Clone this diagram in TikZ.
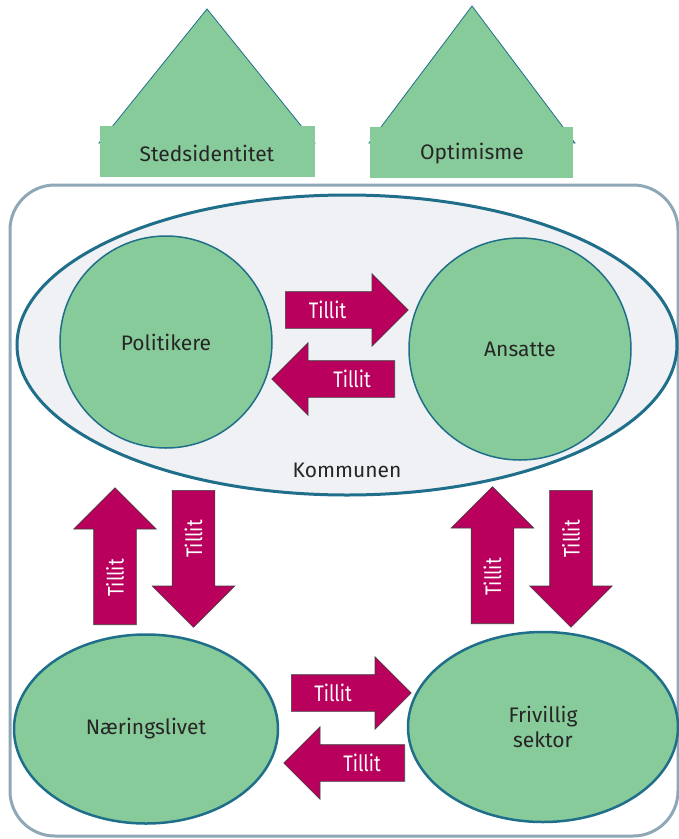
\documentclass[tikz,border=0pt]{standalone}
\usepackage{fontspec}
\setmainfont{Fira Sans}
\newfontfamily\tillitfont[FakeStretch=0.82]{Fira Sans}
\usetikzlibrary{shapes.geometric, shapes.arrows, positioning}

\definecolor{gronn}{HTML}{88CB9A}
\definecolor{tillitrod}{HTML}{B8005C}
\definecolor{kant}{HTML}{1F6E8A}
\definecolor{kommunegra}{HTML}{EFF1F4}
\definecolor{ramme}{HTML}{8FA8B8}

\tikzset{
  aktor/.style={fill=gronn, draw=kant, line width=2.5pt, text=black!85,
    font=\fontsize{21}{25}\selectfont, align=center, inner sep=0pt},
  tillit/.style={single arrow, single arrow tip angle=90, fill=tillitrod,
    draw=black!75, line width=0.6pt, text height=12pt, text depth=0pt,
    inner ysep=12pt, inner xsep=0pt, single arrow head extend=18pt,
    minimum height=123pt, anchor=tail},
  tillitv/.style={tillit, inner ysep=15pt, single arrow head extend=20pt,
    minimum height=137pt},
  tillittekst/.style={text=white, font=\tillitfont\fontsize{22.5}{24}\selectfont,
    inner sep=0pt},
  merke/.style={text=black!85, font=\fontsize{21}{25}\selectfont}
}

\begin{document}
\begin{tikzpicture}[x=1pt, y=-1pt]
\useasboundingbox (0,0) rectangle (679,839);

\draw[ramme, line width=3pt, rounded corners=45pt] (10,185) rectangle (678,836);

% kommunen
\node[ellipse, fill=kommunegra, draw=kant, line width=3pt,
  minimum width=660pt, minimum height=300pt, inner sep=0pt] (kommunen) at (347,345) {};
\node[merke, above=15pt of kommunen.south] (komtekst) {Kommunen};

\node[aktor, circle, line width=1.5pt, minimum size=212pt] (pol) at (166,342) {Politikere};
\node[aktor, circle, line width=1.5pt, minimum size=222pt] (ans) at (520,349) {Ansatte};

\node[aktor, ellipse, minimum width=264pt, minimum height=189pt] (naer) at (146,729) {Næringslivet};
\node[aktor, ellipse, minimum width=270pt, minimum height=190pt] (friv) at (543,727) {Frivillig\\sektor};

% tillit-piler
\node[tillit] (polans) at (285,310) {};
\node[tillit, shape border rotate=180] (anspol) at (395,379) {};
\node[tillitv, rotate=90] (naerkom) at (115,625) {};
\node[tillitv, rotate=90, shape border rotate=180] (komnaer) at (193.5,490) {};
\node[tillitv, rotate=90] (frivkom) at (492.5,624) {};
\node[tillitv, rotate=90, shape border rotate=180] (komfriv) at (571,490) {};
\node[tillit, minimum height=120pt] (naerfriv) at (291,693) {};
\node[tillit, minimum height=121pt, shape border rotate=180] (frivnaer) at (405,763) {};

\node[tillittekst] at ([xshift=42.5pt]polans.tail) {Tillit};
\node[tillittekst] at ([xshift=-43pt]anspol.tail) {Tillit};
\node[tillittekst, rotate=90] at ([yshift=47pt]naerkom.tail) {Tillit};
\node[tillittekst, rotate=90] at ([yshift=-49pt]komnaer.tail) {Tillit};
\node[tillittekst, rotate=90] at ([yshift=47pt]frivkom.tail) {Tillit};
\node[tillittekst, rotate=90] at ([yshift=-49pt]komfriv.tail) {Tillit};
\node[tillittekst] at ([xshift=42pt]naerfriv.tail) {Tillit};
\node[tillittekst] at ([xshift=-43pt]frivnaer.tail) {Tillit};

% stedsidentitet og optimisme
\draw[kant, fill=gronn, line width=0.8pt] (207,9) -- (315,143) -- (99,143) -- cycle;
\fill[gronn] (100,126) rectangle (315,177);
\node[merke] (sted) at (207,153) {Stedsidentitet};

\draw[kant, fill=gronn, line width=0.8pt] (472,6) -- (575,143) -- (369,143) -- cycle;
\fill[gronn] (370,127) rectangle (573,178);
\node[merke] (opt) at (472,154) {Optimisme};

\end{tikzpicture}
\end{document}
